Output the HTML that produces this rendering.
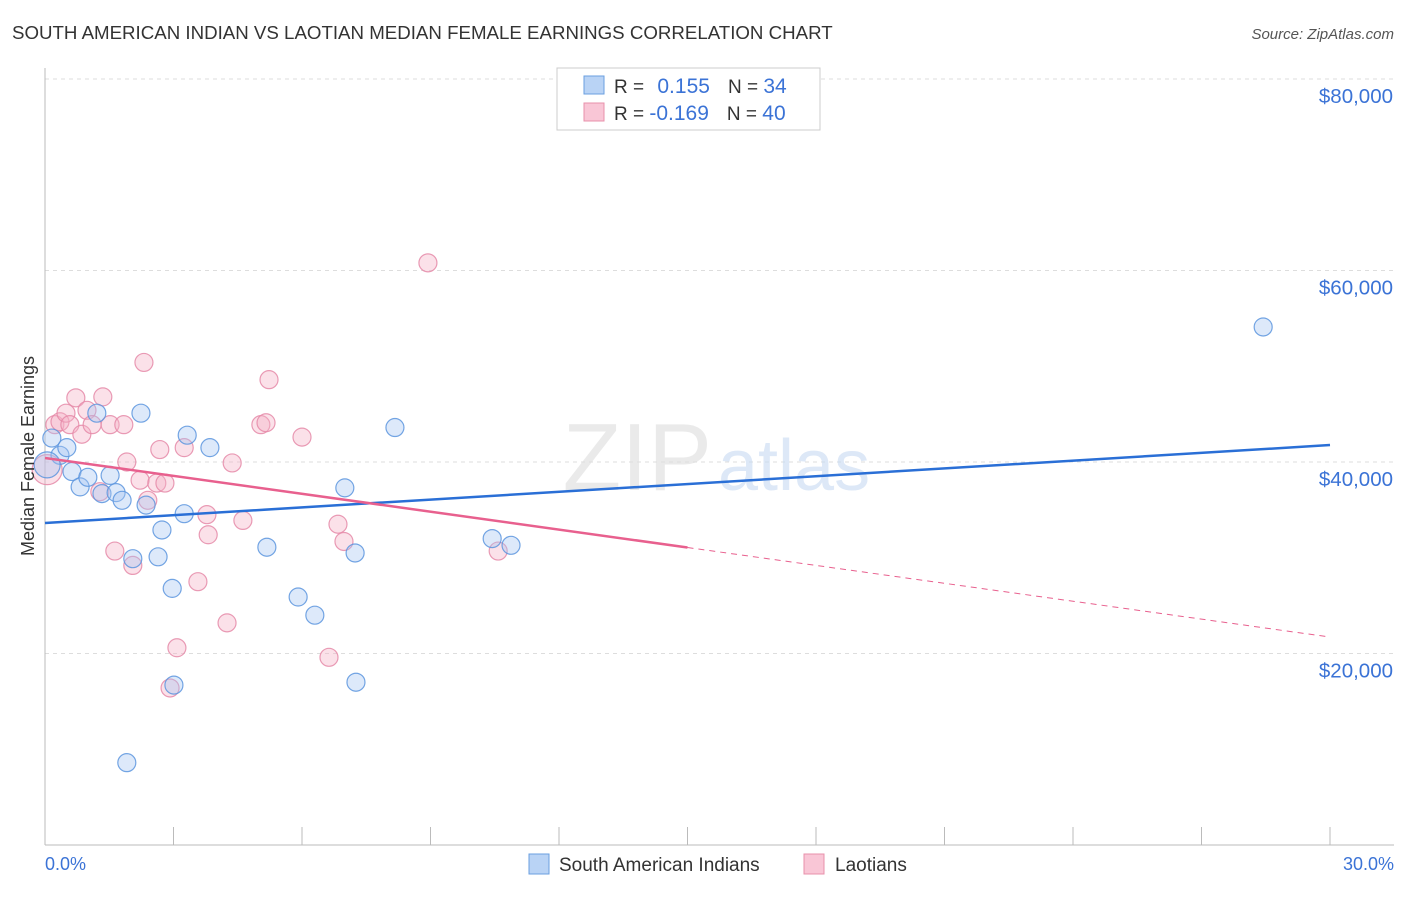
<!DOCTYPE html>
<html><head><meta charset="utf-8"><style>
body{margin:0;background:#fff;font-family:"Liberation Sans",sans-serif}
svg text{font-family:"Liberation Sans",sans-serif}
</style></head><body>
<svg id="chart" width="1406" height="892" xmlns="http://www.w3.org/2000/svg">
<text x="12" y="39" font-size="18.7" fill="#333">SOUTH AMERICAN INDIAN VS LAOTIAN MEDIAN FEMALE EARNINGS CORRELATION CHART</text>
<text x="1394" y="39" font-size="15" fill="#555" font-style="italic" text-anchor="end">Source: ZipAtlas.com</text>
<g id="grid"></g>
<text x="712" y="490" font-size="96" fill="#ddd" font-family="Liberation Serif" text-anchor="end" opacity="0.6">ZIP</text>
<text x="718" y="490" font-size="72" fill="#c8daf2" opacity="0.6">atlas</text>
<g id="marks"></g>
<text transform="translate(34,456) rotate(-90)" font-size="18" fill="#333" text-anchor="middle">Median Female Earnings</text>
<text x="45" y="870" font-size="18" fill="#3b73d6">0.0%</text>
<text x="1394" y="870" font-size="18" fill="#3b73d6" text-anchor="end">30.0%</text>
<g>
<rect x="557" y="68" width="263" height="62" fill="#fff" stroke="#ccc"/>
<rect x="584" y="76" width="20" height="18" fill="#b9d3f5" stroke="#6a9fe0"/>
<rect x="584" y="103" width="20" height="18" fill="#f9c6d6" stroke="#e890ab"/>
<text x="614" y="93" font-size="19" fill="#333">R = <tspan fill="#3b73d6" dx="8" font-size="21">0.155</tspan><tspan dx="18" fill="#333">N = </tspan><tspan fill="#3b73d6" font-size="21">34</tspan></text>
<text x="614" y="120" font-size="19" fill="#333">R = <tspan fill="#3b73d6" font-size="21">-0.169</tspan><tspan dx="18" fill="#333">N = </tspan><tspan fill="#3b73d6" font-size="21">40</tspan></text>
</g>
<g>
<rect x="529" y="854" width="20" height="20" fill="#b9d3f5" stroke="#6a9fe0"/>
<text x="559" y="871" font-size="19" fill="#333">South American Indians</text>
<rect x="804" y="854" width="20" height="20" fill="#f9c6d6" stroke="#e890ab"/>
<text x="835" y="871" font-size="19" fill="#333">Laotians</text>
</g>
</svg>
<script>
const yTicks=[20000,40000,60000,80000];
const yTickLabels=["$20,000","$40,000","$60,000","$80,000"];
const xTicks=[0,3,6,9,12,15,18,21,24,27,30];
const blueX=[0.16,0.35,0.51,0.63,0.82,1.0,1.21,1.33,1.52,1.66,1.8,1.91,2.05,2.24,2.36,2.64,2.73,2.97,3.01,3.25,3.32,3.85,5.18,5.91,6.3,7.0,7.24,7.26,8.17,10.44,10.88,28.44,0.05];
const blueY=[42500,40700,41500,39000,37400,38400,45100,36700,38600,36800,36000,8600,29900,45100,35500,30100,32900,26800,16700,34600,42800,41500,31100,25900,24000,37300,30500,17000,43600,32000,31300,54100,39700];
const pinkX=[0.23,0.35,0.49,0.58,0.72,0.86,0.98,1.1,1.28,1.35,1.52,1.63,1.84,1.91,2.05,2.22,2.31,2.4,2.61,2.68,2.8,2.92,3.08,3.25,3.57,3.78,3.81,4.25,4.37,4.62,5.04,5.16,5.23,6.0,6.63,6.84,6.98,8.94,10.58,0.05];
const pinkY=[43900,44200,45100,43900,46700,42900,45400,43900,36900,46800,43900,30700,43900,40000,29200,38100,50400,36000,37800,41300,37800,16400,20600,41500,27500,34500,32400,23200,39900,33900,43900,44100,48600,42600,19600,33500,31700,60800,30700,39200];
const blueTrend=[33630,41770];
const pinkTrend=[40420,21720];
const pinkSolidEnd=15;
const NS="http://www.w3.org/2000/svg";
const X=v=>45+v*(1285/30), Y=v=>845-v*(191.5/20000);
function mk(tag,attrs,parent){const e=document.createElementNS(NS,tag);for(const k in attrs)e.setAttribute(k,attrs[k]);parent.appendChild(e);return e;}
const grid=document.getElementById('grid'), marks=document.getElementById('marks');
yTicks.forEach((t,i)=>{
 const l=mk('line',{x1:45,x2:1394,y1:Y(t),y2:Y(t),stroke:'#ddd','stroke-dasharray':'4,4'},grid);
 
 
 const tx=mk('text',{x:1393,y:Y(t)+24,'font-size':20.5,fill:'#3b73d6','text-anchor':'end'},grid);
 tx.textContent=yTickLabels[i];
 
 
});
const ax=mk('line',{x1:45,x2:45,y1:68,y2:845,stroke:'#bbb'},grid);


const bx=mk('line',{x1:45,x2:1394,y1:845,y2:845,stroke:'#bbb'},grid);


xTicks.forEach(t=>{
 const l=mk('line',{x1:X(t),x2:X(t),y1:827,y2:845,stroke:'#bbb'},grid);
 
 
});
function dot(x,y,fill,stroke,name,r){
 const c=mk('circle',{cx:X(x),cy:Y(y),r:r,fill:fill,'fill-opacity':0.38,stroke:stroke,'stroke-width':1.2,'stroke-opacity':0.85},marks);
 
 
}
pinkX.forEach((x,i)=>dot(x,pinkY[i],'#f5b0c6','#e58aa8','laotian-point',i==pinkX.length-1?15:9));
blueX.forEach((x,i)=>dot(x,blueY[i],'#a6c6f1','#5c95de','south-american-indian-point',i==blueX.length-1?13:9));
const bt=mk('line',{x1:X(0),y1:Y(blueTrend[0]),x2:X(30),y2:Y(blueTrend[1]),stroke:'#2a6fd6','stroke-width':2.5},marks);


const pm=pinkTrend[0]+(pinkTrend[1]-pinkTrend[0])*pinkSolidEnd/30;
const pt=mk('line',{x1:X(0),y1:Y(pinkTrend[0]),x2:X(pinkSolidEnd),y2:Y(pm),stroke:'#e8608e','stroke-width':2.5},marks);


const pd=mk('line',{x1:X(pinkSolidEnd),y1:Y(pm),x2:X(30),y2:Y(pinkTrend[1]),stroke:'#e8608e','stroke-width':1,'stroke-dasharray':'6,5'},marks);


</script>
</body></html>
